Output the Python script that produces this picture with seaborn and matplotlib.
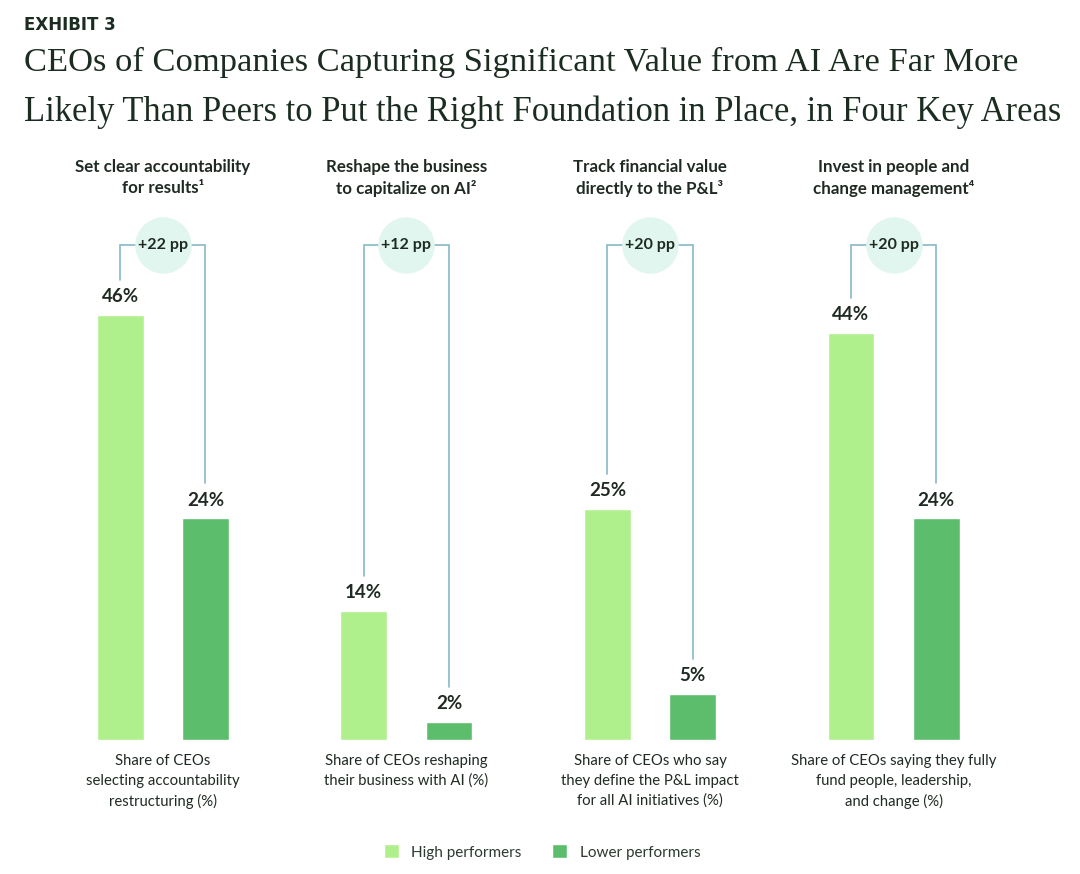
import matplotlib
matplotlib.use("Agg")
import matplotlib.pyplot as plt
import seaborn as sns
import pandas as pd

# ---------------- data ----------------
categories = [
    "Set clear accountability\nfor results\u00b9",
    "Reshape the business\nto capitalize on AI\u00b2",
    "Track financial value\ndirectly to the P&L\u00b3",
    "Invest in people and\nchange management\u2074",
]
high_performers = [46, 14, 25, 44]
lower_performers = [24, 2, 5, 24]
diff_labels = ["+22 pp", "+12 pp", "+20 pp", "+20 pp"]
metric_labels = [
    "Share of CEOs\nselecting accountability\nrestructuring (%)",
    "Share of CEOs reshaping\ntheir business with AI (%)",
    "Share of CEOs who say\nthey define the P&L impact\nfor all AI initiatives (%)",
    "Share of CEOs saying they fully\nfund people, leadership,\nand change (%)",
]
groups = ["High performers", "Lower performers"]

# ---------------- styling ----------------
sns.set_theme(style="white")
SANS = ["Lato", "DejaVu Sans"]
SERIF = ["Liberation Serif", "DejaVu Serif"]
plt.rcParams["font.family"] = SANS

LIGHT = "#b0f08c"
DARK = "#5cbe6c"
TEXT = "#1f2b22"
TITLE = "#1b2d21"
LINE = "#86b9c6"
CIRCLE = "#e1f6ee"

rows = []
for c, h, l in zip(categories, high_performers, lower_performers):
    rows.append({"category": c, "value": h, "group": groups[0]})
    rows.append({"category": c, "value": l, "group": groups[1]})
df = pd.DataFrame(rows)

W, H = 1080, 874
fig = plt.figure(figsize=(W / 100, H / 100), dpi=100)
fig.patch.set_facecolor("white")

base_px = 740
px_per = 9.25
ymax = 60
ax = fig.add_axes([0, (H - base_px) / H, 1, ymax * px_per / H])

sns.barplot(data=df, x="category", y="value", hue="group", hue_order=groups,
            palette=[LIGHT, DARK], saturation=1, width=0.70, gap=0.45,
            errorbar=None, ax=ax)

ax.set_xlim(-0.668, 3.765)
ax.set_ylim(0, ymax)
for s in ax.spines.values():
    s.set_visible(False)
ax.set_xticks([])
ax.set_yticks([])
ax.set_xlabel("")
ax.set_ylabel("")
ax.patch.set_alpha(0)

handles, labels = ax.get_legend_handles_labels()
if ax.legend_ is not None:
    ax.legend_.remove()

# bar centres from the drawn patches
cont_hi, cont_lo = ax.containers[0], ax.containers[1]
hi_x = [b.get_x() + b.get_width() / 2 for b in cont_hi]
lo_x = [b.get_x() + b.get_width() / 2 for b in cont_lo]

bracket_y = (base_px - 245) / px_per
gap_above = 35 / px_per
lab_off = 18 / px_per

for i in range(len(categories)):
    h, l = high_performers[i], lower_performers[i]
    # value labels
    ax.text(hi_x[i], h + lab_off, f"{h}%", ha="center", va="center",
            fontsize=13.5, fontweight="bold", color=TEXT)
    ax.text(lo_x[i], l + lab_off, f"{l}%", ha="center", va="center",
            fontsize=13.5, fontweight="bold", color=TEXT)
    # bracket
    ax.plot([hi_x[i], hi_x[i], lo_x[i], lo_x[i]],
            [h + gap_above, bracket_y, bracket_y, l + gap_above],
            color=LINE, lw=1.2, clip_on=False, zorder=2, solid_joinstyle="miter")
    cx = (hi_x[i] + lo_x[i]) / 2
    ax.scatter([cx], [bracket_y], s=1650, color=CIRCLE, zorder=3,
               clip_on=False, linewidths=0)
    ax.text(cx, bracket_y, diff_labels[i], ha="center", va="center",
            fontsize=11.5, fontweight="bold", color=TEXT, zorder=4)
    # panel header
    ax.text(i, (base_px - 159) / px_per, categories[i], ha="center", va="top",
            fontsize=12.2, fontweight="bold", color=TEXT, linespacing=1.36,
            family=SANS)
    # metric label
    ax.text(i, (base_px - 754) / px_per, metric_labels[i], ha="center", va="top",
            fontsize=10.7, color=TEXT, linespacing=1.5, family=SANS)

# legend
fig.legend(handles, labels, loc="center", bbox_to_anchor=(542 / W, 1 - 852 / H),
           ncol=2, frameon=False, fontsize=11, handlelength=1.0,
           handleheight=1.0, handletextpad=0.8, columnspacing=2.0,
           labelcolor="#2c3a30")

# titles
fig.text(24 / W, 1 - 25 / H, "EXHIBIT 3", ha="left", va="center",
         fontsize=12, fontweight="bold", color=TITLE, family=["DejaVu Sans"])
t1 = fig.text(24 / W, 1 - 62 / H,
              "CEOs of Companies Capturing Significant Value from AI Are Far More",
              ha="left", va="center", fontsize=22, color=TITLE, family=SERIF)
t2 = fig.text(24 / W, 1 - 112 / H,
              "Likely Than Peers to Put the Right Foundation in Place, in Four Key Areas",
              ha="left", va="center", fontsize=22, color=TITLE, family=SERIF)

# fit title widths to the reference
fig.canvas.draw()
r = fig.canvas.get_renderer()
for t, target in ((t1, 989), (t2, 1033)):
    w = t.get_window_extent(r).width
    t.set_fontsize(t.get_fontsize() * target / w)

fig.savefig("out.png", dpi=100, facecolor="white")
